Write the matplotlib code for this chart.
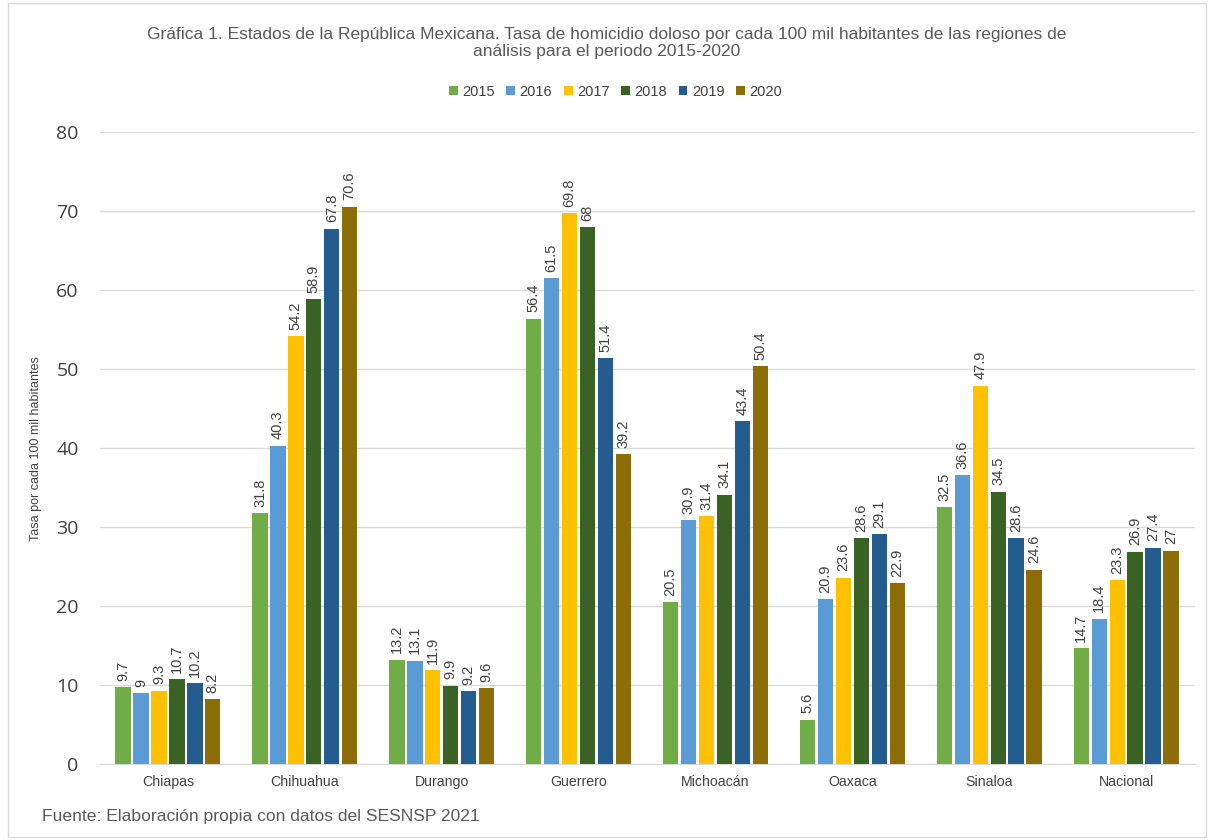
import matplotlib.pyplot as plt
import numpy as np

plt.rcParams['font.family'] = ['Liberation Sans', 'DejaVu Sans']

estados = ["Chiapas", "Chihuahua", "Durango", "Guerrero", "Michoacán", "Oaxaca", "Sinaloa", "Nacional"]
anios = ["2015", "2016", "2017", "2018", "2019", "2020"]
tasa_2015 = [9.7, 31.8, 13.2, 56.4, 20.5, 5.6, 32.5, 14.7]
tasa_2016 = [9, 40.3, 13.1, 61.5, 30.9, 20.9, 36.6, 18.4]
tasa_2017 = [9.3, 54.2, 11.9, 69.8, 31.4, 23.6, 47.9, 23.3]
tasa_2018 = [10.7, 58.9, 9.9, 68, 34.1, 28.6, 34.5, 26.9]
tasa_2019 = [10.2, 67.8, 9.2, 51.4, 43.4, 29.1, 28.6, 27.4]
tasa_2020 = [8.2, 70.6, 9.6, 39.2, 50.4, 22.9, 24.6, 27]
series = [tasa_2015, tasa_2016, tasa_2017, tasa_2018, tasa_2019, tasa_2020]

colores = ["#70AD47", "#5B9BD5", "#FFC000", "#3B6225", "#245C8F", "#8C6D08"]

fig = plt.figure(figsize=(12.14, 8.4), dpi=100)
ax = fig.add_axes([0.082, 0.0905, 0.902, 0.752])

x = np.arange(len(estados))
paso = 0.131
ancho = 0.112
for i, (anio, valores) in enumerate(zip(anios, series)):
    pos = x + (i - 2.5) * paso
    barras = ax.bar(pos, valores, ancho, color=colores[i], label=anio, zorder=3)
    for b, v in zip(barras, valores):
        ax.text(b.get_x() + b.get_width() / 2, v + 0.8, f"{v:g}",
                rotation=90, ha="center", va="bottom", fontsize=10.5, color="#404040")

ax.set_ylim(0, 80)
ax.set_xlim(-0.5, len(estados) - 0.5)
ax.set_yticks(range(0, 81, 10))
ax.set_yticklabels([str(t) for t in range(0, 81, 10)], family=['Open Sans', 'DejaVu Sans'])
ax.tick_params(axis="y", labelsize=14, colors="#404040", length=0, pad=15)
ax.tick_params(axis="x", labelsize=10.2, colors="#404040", length=0, pad=8)
ax.set_xticks(x)
ax.set_xticklabels(estados)
ax.grid(axis="y", color="#D9D9D9", linewidth=1, zorder=0)
for s in ["top", "right", "left"]:
    ax.spines[s].set_visible(False)
ax.spines["bottom"].set_color("#D9D9D9")
ax.set_ylabel("Tasa por cada 100 mil habitantes", fontsize=9, color="#404040")
ax.yaxis.set_label_coords(-0.053, 0.5)

fig.text(0.5, 0.949, "Gráfica 1. Estados de la República Mexicana. Tasa de homicidio doloso por cada 100 mil habitantes de las regiones de\nanálisis para el periodo 2015-2020",
         ha="center", va="center", fontsize=12.5, color="#595959", linespacing=1.15)
ax.legend(loc="center", bbox_to_anchor=(0.507, 0.891), bbox_transform=fig.transFigure, ncol=6,
          frameon=False, fontsize=10.5, handlelength=0.6, handleheight=0.6, handletextpad=0.3,
          columnspacing=0.8, labelcolor="#404040")
fig.text(0.035, 0.023, "Fuente: Elaboración propia con datos del SESNSP 2021", fontsize=12.6, color="#595959")

fig.patches.append(plt.Rectangle((0.007, 0.004), 0.986, 0.992, transform=fig.transFigure,
                                 fill=False, edgecolor="#D9D9D9", linewidth=1))

fig.savefig("out.png", dpi=100)
